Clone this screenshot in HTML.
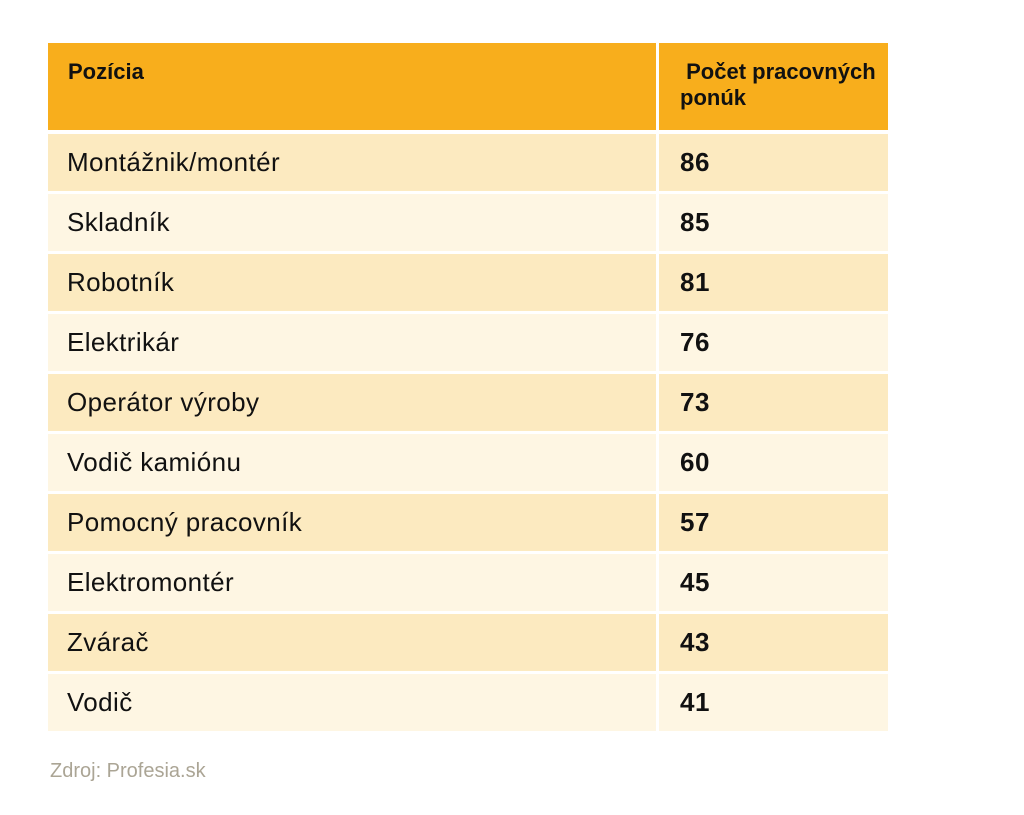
<!DOCTYPE html>
<html><head><meta charset="utf-8"><style>
body{margin:0;width:1024px;height:815px;background:#fff;font-family:"Liberation Sans",sans-serif;position:relative;overflow:hidden}
.c{position:absolute;box-sizing:border-box;color:#111}
.h{background:#F8AE1C;font-weight:bold;font-size:22px;line-height:26px}
.o{background:#FCEAC0}
.e{background:#FEF6E3}
.t{font-size:26px;letter-spacing:0.4px;padding-left:19px;display:flex;align-items:center}
.n{font-size:26px;letter-spacing:0.5px;font-weight:bold;padding-left:21px;display:flex;align-items:center}
</style></head><body>
<div class="c h" style="left:48px;top:43px;width:608px;height:87px;padding:16px 0 0 20px">Pozícia</div>
<div class="c h" style="left:659px;top:43px;width:229px;height:87px;padding:16px 0 0 21px;white-space:nowrap">&nbsp;Počet pracovných<br>ponúk</div>
<div id="rows"></div>
<script>
var d=[["Montážnik/montér",86],["Skladník",85],["Robotník",81],["Elektrikár",76],["Operátor výroby",73],["Vodič kamiónu",60],["Pomocný pracovník",57],["Elektromontér",45],["Zvárač",43],["Vodič",41]];
var h="";d.forEach(function(r,i){var y=134+60*i,c=i%2?"e":"o";
h+='<div class="c t '+c+'" style="left:48px;top:'+y+'px;width:608px;height:57px">'+r[0]+'</div>';
h+='<div class="c n '+c+'" style="left:659px;top:'+y+'px;width:229px;height:57px">'+r[1]+'</div>';});
document.getElementById("rows").innerHTML=h;
</script>
<div style="position:absolute;left:50px;top:760px;font-size:20px;color:#ABA595">Zdroj: Profesia.sk</div>
</body></html>
